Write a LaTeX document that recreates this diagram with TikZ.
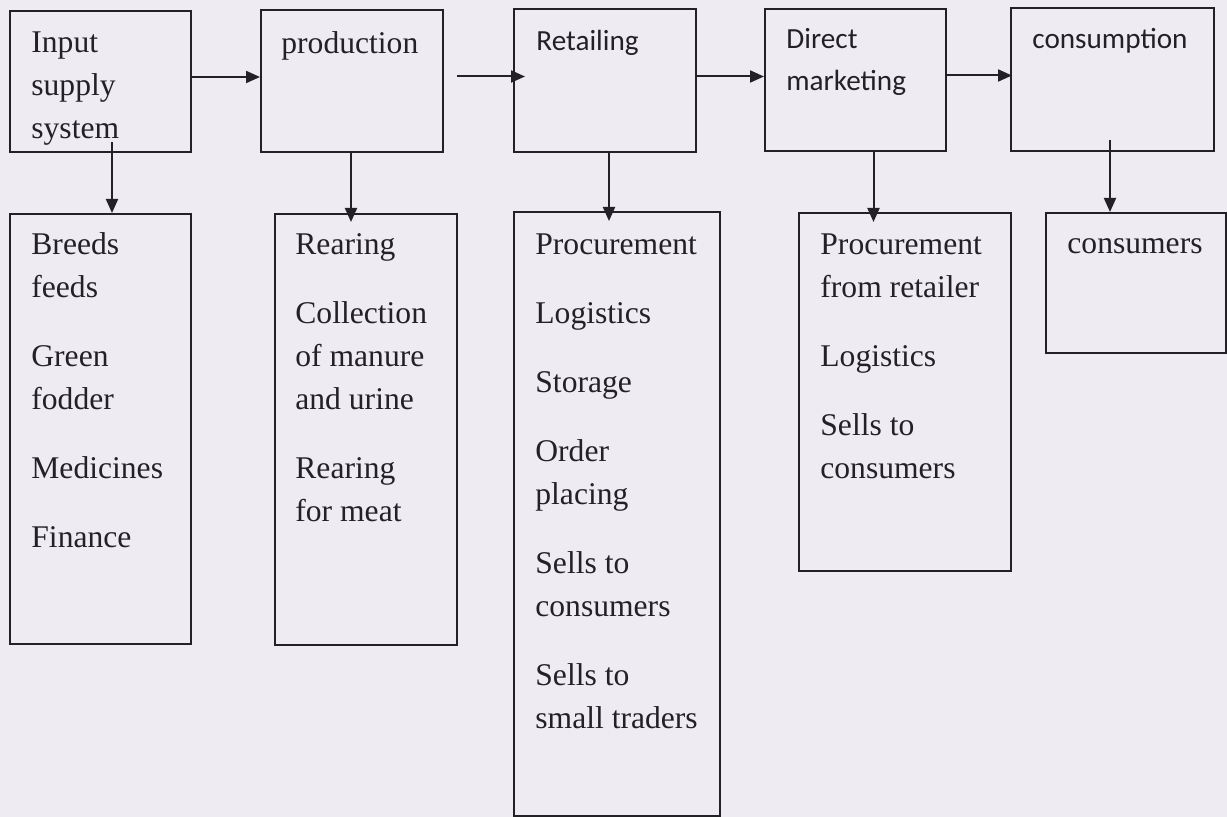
\documentclass[tikz,border=0pt]{standalone}
\usepackage{fontspec}
\setmainfont{Liberation Serif}
\newfontfamily\calfont{Carlito}
\usepackage{xcolor}
\usepackage{tikz}
\usetikzlibrary{arrows.meta}

\definecolor{paper}{RGB}{239,235,243}
\definecolor{ink}{RGB}{35,33,38}

\begin{document}
\begin{tikzpicture}[
  x=0.5pt, y=-0.5pt,
  box/.style={draw=ink, line width=1pt, anchor=north west, inner sep=0pt},
  item/.style={anchor=north west, inner sep=0pt, align=left, text=ink,
    font=\fontsize{15.8}{21.5}\selectfont, execute at begin node=\strut},
  head/.style={anchor=north west, inner sep=0pt, align=left, text=ink,
    font=\calfont\fontsize{14.6}{21}\selectfont, execute at begin node=\strut},
  arr/.style={draw=ink, line width=1pt, -{Triangle[length=7pt,width=6pt]}},
]
\fill[paper] (0,0) rectangle (1227,817);
\useasboundingbox (0,0) rectangle (1227,817);

% chain stages
\node[box, minimum width=90.5pt, minimum height=70.5pt] (isup) at (9,10) {};
\node[box, minimum width=91pt, minimum height=71pt] (prod) at (260,9) {};
\node[box, minimum width=91pt, minimum height=71.5pt] (ret) at (513,8) {};
\node[box, minimum width=90.5pt, minimum height=71pt] (dm) at (764,8) {};
\node[box, minimum width=101.5pt, minimum height=71.5pt] (cons) at (1010,7) {};

\node[item] (isup-t) at (31,31.9) {Input\\supply\\system};
\node[item] (prod-t) at (281,22.9) {production};
\node[head] (ret-t) at (536,20.6) {Retailing};
\node[head] (dm-t) at (786,28.2) {Direct\\marketing};
\node[head] (cons-t) at (1032,18.6) {consumption};

% activities
\node[box, minimum width=90.5pt, minimum height=215pt] (inp) at (9,213) {};
\node[box, minimum width=91pt, minimum height=215.5pt] (rear) at (274,213) {};
\node[box, minimum width=103pt, minimum height=302pt] (proc) at (513,211) {};
\node[box, minimum width=106pt, minimum height=179pt] (dproc) at (798,212) {};
\node[box, minimum width=90pt, minimum height=70pt] (cust) at (1045,212) {};

\node[item] (inp-t) at (31,232)
  {Breeds\\feeds\\[13pt]Green\\fodder\\[13pt]Medicines\\[13pt]Finance};
\node[item] (rear-t) at (295,233)
  {Rearing\\[13pt]Collection\\of manure\\and urine\\[13pt]Rearing\\for meat};
\node[item] (proc-t) at (535,233)
  {Procurement\\[13pt]Logistics\\[13pt]Storage\\[13pt]Order\\placing\\[13pt]Sells to\\consumers\\[13pt]Sells to\\small traders};
\node[item] (dproc-t) at (820,233)
  {Procurement\\from retailer\\[13pt]Logistics\\[13pt]Sells to\\consumers};
\node[item, anchor=north] (cust-t) at (1135,223.4) {consumers};

% flow along the chain
\draw[arr] ([yshift=2.25pt]isup.east) -- ([yshift=2.25pt]isup.east -| prod.west);
\draw[arr, shorten <=6.5pt, shorten >=-6pt] ([yshift=2.25pt]prod.east) -- ([yshift=2.25pt]prod.east -| ret.west);
\draw[arr] ([yshift=2pt]ret.east) -- ([yshift=2pt]ret.east -| dm.west);
\draw[arr, shorten >=-1pt] ([yshift=2.25pt]dm.east) -- ([yshift=2.25pt]dm.east -| cons.west);

% down to activities
\draw[arr, shorten <=-5.5pt] ([xshift=5.75pt]isup.south) -- ([xshift=5.75pt]isup.south |- inp.north);
\draw[arr, shorten >=-4.5pt] ([xshift=-0.5pt]prod.south) -- ([xshift=-0.5pt]prod.south |- rear.north);
\draw[arr, shorten >=-5pt] ([xshift=2pt]ret.south) -- ([xshift=2pt]ret.south |- proc.north);
\draw[arr, shorten >=-5pt] ([xshift=9pt]dm.south) -- ([xshift=9pt]dm.south |- dproc.north);
\draw[arr, shorten <=-6pt] ([xshift=-1.25pt]cons.south) -- ([xshift=-1.25pt]cons.south |- cust.north);
\end{tikzpicture}
\end{document}
